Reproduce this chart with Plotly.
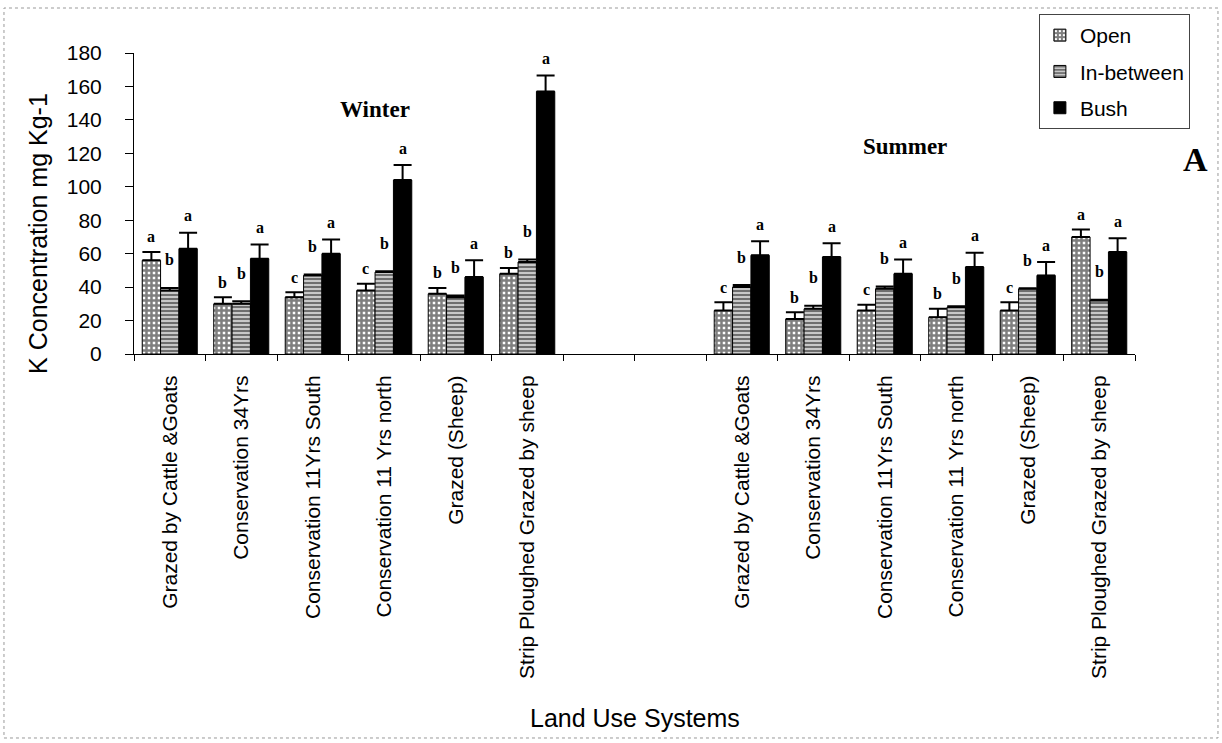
import plotly.graph_objects as go

# ---------------- data ----------------
winter_sites = ["Grazed by Cattle &Goats", "Conservation 34Yrs", "Conservation 11Yrs South",
                "Conservation 11 Yrs north", "Grazed (Sheep)", "Strip Ploughed Grazed by sheep"]
summer_sites = ["Grazed by Cattle &Goats", "Conservation 34Yrs", "Conservation 11Yrs South",
                "Conservation 11 Yrs north", "Grazed (Sheep)", "Strip Ploughed Grazed by sheep"]
gap_sites = ["", ""]

winter_open = [56, 30, 34, 38, 36, 48]
winter_open_err = [5, 4, 3, 4, 3.5, 3.5]
winter_ib = [38, 30, 47, 49, 34, 55]
winter_ib_err = [1.5, 1.5, 0.5, 0.5, 1, 1.5]
winter_bush = [63, 57, 60, 104, 46, 157]
winter_bush_err = [9.5, 8.5, 8.5, 9, 10, 9.5]

summer_open = [26, 21, 26, 22, 26, 70]
summer_open_err = [5, 4, 3.5, 5, 5, 4.5]
summer_ib = [40, 27, 39, 28, 39, 32]
summer_ib_err = [1.2, 1.8, 1.4, 0.5, 0.3, 0.5]
summer_bush = [59, 58, 48, 52, 47, 61]
summer_bush_err = [8.5, 8.2, 8.5, 8.5, 8, 8.2]

winter_open_sig = ["a", "b", "c", "c", "b", "b"]
winter_ib_sig = ["b", "b", "b", "b", "b", "b"]
winter_bush_sig = ["a", "a", "a", "a", "a", "a"]
summer_open_sig = ["c", "b", "c", "b", "c", "a"]
summer_ib_sig = ["b", "b", "b", "b", "b", "b"]
summer_bush_sig = ["a", "a", "a", "a", "a", "a"]

series_names = ["Open", "In-between", "Bush"]
y_ticks = [0, 20, 40, 60, 80, 100, 120, 140, 160, 180]

# ---------------- build ----------------
labels = winter_sites + gap_sites + summer_sites
xpos = list(range(len(labels)))
gapN = [None] * len(gap_sites)
gap_txt = [""] * len(gap_sites)

values = [winter_open + gapN + summer_open,
          winter_ib + gapN + summer_ib,
          winter_bush + gapN + summer_bush]
errors = [winter_open_err + gapN + summer_open_err,
          winter_ib_err + gapN + summer_ib_err,
          winter_bush_err + gapN + summer_bush_err]
sigs = [winter_open_sig + gap_txt + summer_open_sig,
        winter_ib_sig + gap_txt + summer_ib_sig,
        winter_bush_sig + gap_txt + summer_bush_sig]

patterns = [dict(shape="+", fgcolor="black", bgcolor="white", size=5, solidity=0.75),
            dict(shape="-", fgcolor="black", bgcolor="#c8c8c8", size=4, solidity=0.45),
            dict(shape="", fgcolor="black", bgcolor="black")]
colors = ["white", "#c8c8c8", "black"]

BARGAP = 0.23
w = (1 - BARGAP) / 3
letter_shift = [15, 28, 17]

fig = go.Figure()
for k in range(3):
    fig.add_trace(go.Bar(
        x=xpos, y=values[k], name=series_names[k], legendgroup=series_names[k],
        marker=dict(color=colors[k], pattern=patterns[k],
                    line=dict(color="black", width=1)),
        error_y=dict(type="data", array=errors[k],
                     arrayminus=[0 if v is not None else None for v in errors[k]],
                     symmetric=False, color="black", thickness=2, width=9),
    ))

serif = "Liberation Serif, Times New Roman, serif"
sans = "Liberation Sans, Arial, sans-serif"

annotations = []
for k in range(3):
    for i, (v, e, s) in enumerate(zip(values[k], errors[k], sigs[k])):
        if v is None:
            continue
        annotations.append(dict(
            x=xpos[i] + (k - 1) * w, y=v + e, xref="x", yref="y",
            text="<b>" + s + "</b>", showarrow=False, xanchor="center", yanchor="middle",
            yshift=letter_shift[k],
            font=dict(family=serif, size=16, color="black")))

annotations += [
    dict(x=0.241, y=0.811, xref="paper", yref="paper", text="<b>Winter</b>", showarrow=False,
         xanchor="center", yanchor="middle", font=dict(family=serif, size=23, color="black")),
    dict(x=0.770, y=0.688, xref="paper", yref="paper", text="<b>Summer</b>", showarrow=False,
         xanchor="center", yanchor="middle", font=dict(family=serif, size=23, color="black")),
    dict(x=1.06, y=0.645, xref="paper", yref="paper", text="<b>A</b>", showarrow=False,
         xanchor="center", yanchor="middle", font=dict(family=serif, size=34, color="black")),
    dict(x=0.5, y=-1.209, xref="paper", yref="paper", text="Land Use Systems", showarrow=False,
         xanchor="center", yanchor="middle", font=dict(family=sans, size=25, color="black")),
    dict(x=-0.0959, y=0.399, xref="paper", yref="paper", text="K Concentration mg Kg-1",
         textangle=-90, showarrow=False, xanchor="center", yanchor="middle",
         font=dict(family=sans, size=25, color="black")),
]

fig.update_layout(
    width=1222, height=743,
    margin=dict(l=134, r=87, t=53, b=389),
    paper_bgcolor="white", plot_bgcolor="white",
    barmode="group", bargap=BARGAP, bargroupgap=0,
    font=dict(family=sans, color="black"),
    showlegend=True,
    legend=dict(x=0.904, y=1.1296, xanchor="left", yanchor="top",
                font=dict(family=sans, size=21, color="black"),
                bordercolor="#444", borderwidth=1, bgcolor="white",
                tracegroupgap=6, itemwidth=30),
    annotations=annotations,
    shapes=[dict(type="rect", xref="paper", yref="paper", x0=-0.1299, x1=1.0829,
                 y0=-1.2757, y1=1.1495, line=dict(color="#999", width=1, dash="dot"))],
)
fig.update_xaxes(
    range=[-0.5, len(labels) - 0.5], tickmode="array", tickvals=xpos, ticktext=labels,
    tickangle=-90, ticks="", ticklabelstandoff=12,
    tickfont=dict(family=sans, size=21, color="black"),
    showline=True, linecolor="black", linewidth=1, showgrid=False, zeroline=False,
    minor=dict(tick0=-0.5, dtick=1, ticks="outside", ticklen=6, tickcolor="black", showgrid=False),
)
fig.update_yaxes(
    range=[0, 180], tickmode="array", tickvals=y_ticks, ticks="outside", ticklen=8,
    tickwidth=1, tickcolor="black", ticklabelstandoff=19,
    tickfont=dict(family=sans, size=21, color="black"),
    showline=True, linecolor="black", linewidth=1, showgrid=False, zeroline=False,
)

fig.write_html("out.html", config={"displayModeBar": False})
